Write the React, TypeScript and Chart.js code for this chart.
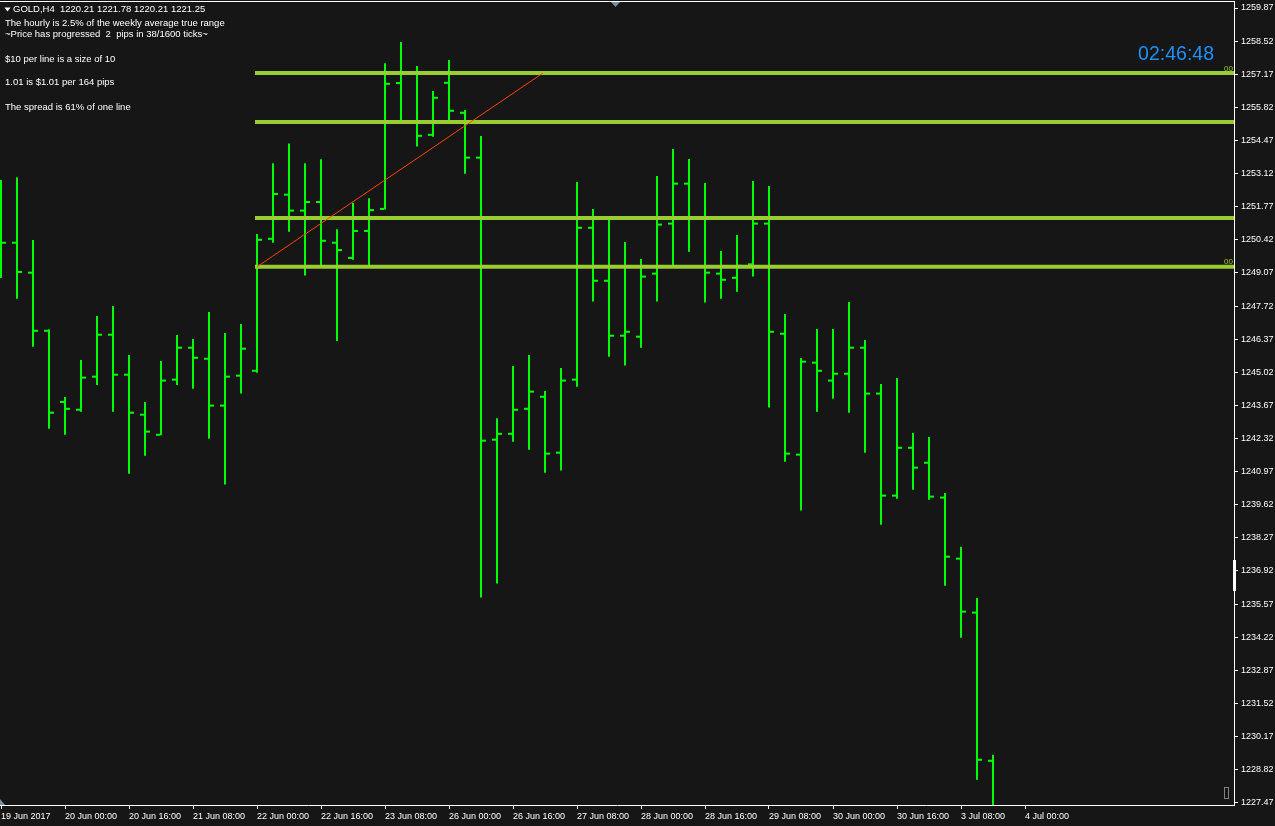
import React, { useEffect, useRef } from "react";
import { Chart, registerables } from "chart.js";

Chart.register(...registerables);

// ---------- data (GOLD, H4 bars) ----------
const OPEN = [
  1251.5, 1250.3, 1249.08, 1246.71, 1243.81, 1243.49, 1244.84, 1246.55, 1244.92, 1243.29,
  1242.47, 1244.72, 1246.02, 1245.57, 1243.66, 1244.88, 1245.08, 1250.46, 1252.26, 1251.61,
  1251.96, 1250.3, 1249.68, 1250.78, 1251.68, 1256.81, 1255.25, 1254.7, 1256.82, 1255.6,
  1253.77, 1242.27, 1242.51, 1243.53, 1244.02, 1241.74, 1244.72, 1250.91, 1248.75, 1246.51,
  1246.47, 1249.04, 1251.08, 1252.71, 1251.31, 1249.04, 1248.87, 1249.42, 1251.08, 1246.59,
  1241.66, 1245.41, 1244.68, 1244.96, 1246.02, 1244.15, 1239.99, 1241.94, 1241.33, 1239.91,
  1237.42, 1235.22, 1229.18,
];
const HIGH = [
  1252.86, 1252.97, 1250.41, 1246.77, 1244.01, 1245.52, 1247.31, 1247.72, 1245.72, 1243.81,
  1245.48, 1246.54, 1246.38, 1247.48, 1246.62, 1246.99, 1250.66, 1253.54, 1254.35, 1253.54,
  1253.7, 1250.85, 1251.93, 1252.11, 1257.62, 1258.48, 1257.51, 1256.49, 1257.75, 1255.71,
  1254.65, 1243.14, 1245.27, 1245.72, 1244.26, 1245.19, 1252.78, 1251.68, 1251.26, 1250.33,
  1249.64, 1253.02, 1254.12, 1253.71, 1252.74, 1249.96, 1250.62, 1252.82, 1252.61, 1247.39,
  1245.6, 1246.78, 1246.78, 1247.88, 1246.33, 1244.54, 1244.79, 1242.54, 1242.38, 1240.1,
  1237.9, 1235.82, 1229.42,
];
const LOW = [
  1248.86, 1248.02, 1246.06, 1242.72, 1242.47, 1243.41, 1244.5, 1243.41, 1240.88, 1241.62,
  1242.45, 1244.5, 1244.35, 1242.31, 1240.44, 1244.15, 1245.0, 1250.3, 1250.75, 1248.96,
  1249.36, 1246.29, 1249.61, 1249.36, 1251.66, 1255.2, 1254.22, 1254.62, 1255.3, 1253.11,
  1235.84, 1236.41, 1242.19, 1241.86, 1240.92, 1241.01, 1244.43, 1247.9, 1245.65, 1245.29,
  1246.02, 1247.9, 1249.35, 1249.93, 1247.86, 1248.02, 1248.3, 1248.92, 1243.58, 1241.37,
  1239.38, 1243.41, 1243.94, 1243.37, 1241.74, 1238.8, 1239.86, 1240.23, 1239.82, 1236.32,
  1234.2, 1228.41, 1226.4,
];
const CLOSE = [
  1250.3, 1249.11, 1246.71, 1243.37, 1243.53, 1244.8, 1246.55, 1244.92, 1243.37, 1242.6,
  1244.68, 1246.02, 1245.61, 1243.66, 1244.84, 1245.98, 1250.42, 1252.29, 1251.61, 1251.96,
  1250.38, 1250.0, 1250.78, 1251.63, 1256.78, 1255.25, 1254.66, 1256.21, 1255.68, 1253.77,
  1242.23, 1242.51, 1243.49, 1244.23, 1241.7, 1244.68, 1250.91, 1248.75, 1246.51, 1246.67,
  1248.92, 1251.04, 1252.71, 1251.31, 1249.08, 1248.79, 1249.36, 1251.08, 1246.67, 1241.7,
  1245.45, 1245.08, 1244.96, 1246.02, 1244.15, 1239.99, 1241.94, 1241.13, 1239.95, 1237.5,
  1235.26, 1229.22, 1227.0,
];

const X_TICK_INDEX = [0, 4, 8, 12, 16, 20, 24, 28, 32, 36, 40, 44, 48, 52, 56, 60, 64];
const X_TICK_LABELS = [
  "19 Jun 2017", "20 Jun 00:00", "20 Jun 16:00", "21 Jun 08:00", "22 Jun 00:00",
  "22 Jun 16:00", "23 Jun 08:00", "26 Jun 00:00", "26 Jun 16:00", "27 Jun 08:00",
  "28 Jun 00:00", "28 Jun 16:00", "29 Jun 08:00", "30 Jun 00:00", "30 Jun 16:00",
  "3 Jul 08:00", "4 Jul 00:00",
];
const Y_TICK_LABELS = [
  "1227.47", "1228.82", "1230.17", "1231.52", "1232.87", "1234.22", "1235.57", "1236.92",
  "1238.27", "1239.62", "1240.97", "1242.32", "1243.67", "1245.02", "1246.37", "1247.72",
  "1249.07", "1250.42", "1251.77", "1253.12", "1254.47", "1255.82", "1257.17", "1258.52",
  "1259.87",
];
const Y_TICKS = Y_TICK_LABELS.map(Number);

const LEVELS = [1257.22, 1255.22, 1251.31, 1249.32];
const LEVEL_FROM = 15.875;
const TREND_X = [16.0, 33.875];
const TREND_Y = [1249.32, 1257.22];

const HEADER = "GOLD,H4  1220.21 1221.78 1220.21 1221.25";
const INFO_LINES = [
  "The hourly is 2.5% of the weekly average true range",
  "~Price has progressed  2  pips in 38/1600 ticks~",
  "$10 per line is a size of 10",
  "1.01 is $1.01 per 164 pips",
  "The spread is 61% of one line",
];
const CLOCK = "02:46:48";
const LEVEL_TAG = "00";

// ---------- view ----------
const X_MIN = -0.0625;
const X_MAX = 77.0625;
const Y_MIN = 1227.376;
const Y_MAX = 1260.115;

const BG = "#161616";
const BAR = "#00ff00";
const LEVEL_COLOR = "#9acd32";
const TREND_COLOR = "#ff4500";
const FONT = "'Liberation Sans', Arial, sans-serif";

const idx = OPEN.map((_, i) => i);

const overlay = {
  id: "mt4overlay",
  beforeDraw(chart: any) {
    const ctx = chart.ctx;
    ctx.save();
    ctx.fillStyle = BG;
    ctx.fillRect(0, 0, chart.width, chart.height);
    ctx.restore();
  },
  afterDraw(chart: any) {
    const ctx = chart.ctx;
    const area = chart.chartArea;
    const ys = chart.scales.y;
    ctx.save();
    // frame top
    ctx.fillStyle = "#ffffff";
    ctx.fillRect(0, 1, Math.round(area.right) + 1, 1);

    // header triangle + text
    ctx.beginPath();
    ctx.moveTo(4.5, 7.5);
    ctx.lineTo(10.5, 7.5);
    ctx.lineTo(7.5, 11.5);
    ctx.closePath();
    ctx.fill();

    ctx.font = `9.5px ${FONT}`;
    ctx.textBaseline = "middle";
    ctx.textAlign = "left";
    ctx.fillText(HEADER, 13, 9.5);
    const infoY = [23, 34.5, 59.5, 82.5, 107];
    INFO_LINES.forEach((t, i) => ctx.fillText(t, 5, infoY[i]));

    // clock
    ctx.fillStyle = "#1e90ff";
    ctx.font = `19.5px ${FONT}`;
    ctx.textAlign = "right";
    ctx.textBaseline = "alphabetic";
    ctx.fillText(CLOCK, 1214, 59.5);

    // level tags
    ctx.fillStyle = LEVEL_COLOR;
    ctx.font = `8px ${FONT}`;
    [0, 3].forEach((k) => {
      const y = ys.getPixelForValue(LEVELS[k]);
      ctx.fillText(LEVEL_TAG, 1233, y - 2.5);
    });

    // axis marker
    ctx.fillStyle = "#ffffff";
    ctx.fillRect(1233, 560, 3, 31);

    // small gray box
    ctx.strokeStyle = "#808080";
    ctx.lineWidth = 1;
    ctx.strokeRect(1224.5, 787.5, 4, 11);

    // shift markers
    ctx.fillStyle = "#7f8fa0";
    ctx.beginPath();
    ctx.moveTo(611, 2);
    ctx.lineTo(620, 2);
    ctx.lineTo(615.5, 7);
    ctx.closePath();
    ctx.fill();
    ctx.beginPath();
    ctx.moveTo(0, 799);
    ctx.lineTo(0, 805);
    ctx.lineTo(5, 805);
    ctx.closePath();
    ctx.fill();
    ctx.restore();
  },
};

export default function App() {
  const ref = useRef<HTMLCanvasElement | null>(null);

  useEffect(() => {
    const canvas = ref.current;
    if (!canvas) return;
    const tickFont = { family: FONT, size: 9 };
    const chart = new Chart(canvas, {
      type: "bar",
      data: {
        datasets: [
          {
            type: "line",
            label: "trend",
            data: TREND_X.map((x, i) => ({ x, y: TREND_Y[i] })),
            borderColor: TREND_COLOR,
            borderWidth: 1,
            pointRadius: 0,
            fill: false,
            order: 0,
            clip: 0,
          } as any,
          ...LEVELS.map((lv) => ({
            type: "line",
            label: "level",
            data: [
              { x: LEVEL_FROM, y: lv },
              { x: X_MAX + 1, y: lv },
            ],
            borderColor: LEVEL_COLOR,
            borderWidth: 4,
            borderCapStyle: "butt",
            pointRadius: 0,
            fill: false,
            order: 1,
            clip: 0,
          })) as any,
          {
            type: "line",
            label: "open",
            data: idx.map((i) => ({ x: i - 0.1875, y: OPEN[i] })),
            showLine: false,
            pointStyle: "line",
            pointRadius: 2,
            pointBorderWidth: 2,
            pointBorderColor: BAR,
            pointBackgroundColor: BAR,
            order: 2,
            clip: 0,
          } as any,
          {
            type: "line",
            label: "close",
            data: idx.map((i) => ({ x: i + 0.1875, y: CLOSE[i] })),
            showLine: false,
            pointStyle: "line",
            pointRadius: 2,
            pointBorderWidth: 2,
            pointBorderColor: BAR,
            pointBackgroundColor: BAR,
            order: 2,
            clip: 0,
          } as any,
          {
            type: "bar",
            label: "range",
            data: idx.map((i) => ({ x: i, y: [LOW[i], HIGH[i]] })),
            backgroundColor: BAR,
            borderWidth: 0,
            barThickness: 2,
            inflateAmount: 0,
            order: 3,
            clip: 0,
          } as any,
        ],
      },
      options: {
        responsive: false,
        animation: false,
        devicePixelRatio: 1,
        events: [],
        layout: { autoPadding: false, padding: { top: 2, left: 0, right: 0, bottom: 0 } },
        plugins: {
          legend: { display: false },
          tooltip: { enabled: false },
        },
        scales: {
          x: {
            type: "linear",
            position: "bottom",
            min: X_MIN,
            max: X_MAX,
            offset: false,
            afterBuildTicks: (s: any) => {
              s.ticks = X_TICK_INDEX.map((v) => ({ value: v }));
            },
            afterFit: (s: any) => {
              s.height = 21;
              s.paddingLeft = 0;
              s.paddingRight = 0;
            },
            ticks: {
              autoSkip: false,
              maxRotation: 0,
              minRotation: 0,
              align: "start",
              padding: 2,
              color: "#ffffff",
              font: tickFont,
              callback: (_v: any, i: number) => X_TICK_LABELS[i],
            },
            grid: {
              display: true,
              drawOnChartArea: false,
              drawTicks: true,
              tickLength: 4,
              color: "#ffffff",
              offset: false,
            },
            border: { display: true, color: "#ffffff", width: 1 },
          },
          y: {
            type: "linear",
            position: "right",
            min: Y_MIN,
            max: Y_MAX,
            afterBuildTicks: (s: any) => {
              s.ticks = Y_TICKS.map((v) => ({ value: v }));
            },
            afterFit: (s: any) => {
              s.width = 41;
              s.paddingTop = 0;
              s.paddingBottom = 0;
            },
            ticks: {
              autoSkip: false,
              padding: 3,
              color: "#ffffff",
              font: tickFont,
              callback: (_v: any, i: number) => Y_TICK_LABELS[i],
            },
            grid: {
              display: true,
              drawOnChartArea: false,
              drawTicks: true,
              tickLength: 4,
              color: "#ffffff",
            },
            border: { display: true, color: "#ffffff", width: 1 },
          },
        },
      } as any,
      plugins: [overlay],
    });
    return () => chart.destroy();
  }, []);

  return (
    <div
      style={{
        position: "fixed",
        left: 0,
        top: 0,
        width: 1275,
        height: 826,
        background: BG,
        overflow: "hidden",
      }}
    >
      <canvas
        ref={ref}
        width={1275}
        height={826}
        style={{ display: "block", width: 1275, height: 826 }}
      />
    </div>
  );
}
